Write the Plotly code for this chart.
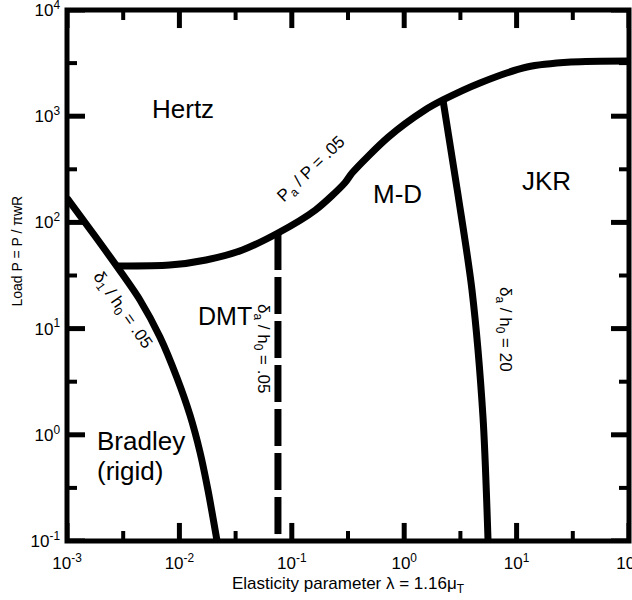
import plotly.graph_objects as go

# Pa/P = .05 boundary (Hertz above)
lam_pa = [0.002844, 0.00817, 0.01726, 0.03639, 0.07534, 0.1626, 0.2958, 0.3436,
          0.7244, 1.531, 2.213, 4.721, 12.39, 30.48, 100]
p_pa = [38.9, 39.7, 44.3, 55.0, 79.4, 130.9, 235.0, 291.7,
        636.8, 1143, 1422, 2056, 2904, 3236, 3311]

# delta_1 / h0 = .05 boundary (Bradley / DMT)
lam_d1 = [0.001, 0.001774, 0.002844, 0.004457, 0.006714, 0.009528, 0.01242, 0.01524, 0.01795, 0.02163]
p_d1 = [169.8, 74.5, 37.2, 18.6, 8.34, 3.43, 1.535, 0.689, 0.302, 0.1]

# delta_a / h0 = .05 boundary (DMT / M-D)
lam_da05 = [0.0753, 0.0753]
p_da05 = [79.4, 0.1]

# delta_a / h0 = 20 boundary (M-D / JKR)
lam_da20 = [2.213, 3.013, 4.009, 5.023, 5.572]
p_da20 = [1422, 181.2, 23.1, 1.472, 0.1]

x_ticks = [1e-3, 1e-2, 1e-1, 1e0, 1e1, 1e2]
x_ticktext = ["10<sup>-3</sup>", "10<sup>-2</sup>", "10<sup>-1</sup>",
              "10<sup>0</sup>", "10<sup>1</sup>", "10<sup>2</sup>"]
y_ticks = [1e-1, 1e0, 1e1, 1e2, 1e3, 1e4]
y_ticktext = ["10<sup>-1</sup>", "10<sup>0</sup>", "10<sup>1</sup>",
              "10<sup>2</sup>", "10<sup>3</sup>", "10<sup>4</sup>"]
x_minor = [10 ** (k + 0.5) for k in range(-3, 2)]
y_minor = [10 ** (k + 0.5) for k in range(-1, 4)]

X_MIN, X_MAX = 1e-3, 1e2
Y_MIN, Y_MAX = 1e-1, 1e4

FONT = "Liberation Sans, Arial, sans-serif"
LW = 7

fig = go.Figure()
fig.add_trace(go.Scatter(x=lam_pa, y=p_pa, mode="lines", hoverinfo="skip",
                         line=dict(color="black", width=LW, shape="spline", smoothing=0.8)))
fig.add_trace(go.Scatter(x=lam_d1, y=p_d1, mode="lines", hoverinfo="skip",
                         line=dict(color="black", width=LW, shape="spline", smoothing=0.8)))
fig.add_trace(go.Scatter(x=lam_da05, y=p_da05, mode="lines", hoverinfo="skip",
                         line=dict(color="black", width=LW, dash="37px,7px")))
fig.add_trace(go.Scatter(x=lam_da20, y=p_da20, mode="lines", hoverinfo="skip",
                         line=dict(color="black", width=LW, shape="spline", smoothing=0.8)))


# inward tick marks on all four sides, one short segment each (lengths in decades)
def tick(xs, ys, width):
    fig.add_trace(go.Scatter(x=xs, y=ys, mode="lines", hoverinfo="skip",
                             cliponaxis=False, line=dict(color="black", width=width)))


for xv, yv, len_x, len_y, w in ((x_ticks, y_ticks, 0.16, 0.17, 5),
                                (x_minor, y_minor, 0.089, 0.094, 4)):
    for v in xv:
        tick([v, v], [Y_MIN, Y_MIN * 10 ** len_y], w)
        tick([v, v], [Y_MAX, Y_MAX / 10 ** len_y], w)
    for v in yv:
        tick([X_MIN, X_MIN * 10 ** len_x], [v, v], w)
        tick([X_MAX, X_MAX / 10 ** len_x], [v, v], w)

# region labels: (log10 x, log10 y, text, size, angle, xanchor)
labels = [
    (-1.968, 3.068, "Hertz", 26, 0, "center"),
    (-0.060, 2.267, "M-D", 26, 0, "center"),
    (1.262, 2.390, "JKR", 26, 0, "center"),
    (-1.590, 1.119, "DMT", 25, 0, "center"),
    (-2.751, -0.058, "Bradley", 26, 0, "left"),
    (-2.751, -0.341, "(rigid)", 26, 0, "left"),
    (-0.820, 2.493, "P<sub>a</sub> / P = .05", 17, -44, "center"),
    (-2.511, 1.166, "δ<sub>1</sub> / h<sub>0</sub> = .05", 17, 55, "center"),
    (-1.265, 0.817, "δ<sub>a</sub> / h<sub>0</sub> = .05", 17, 90, "center"),
    (0.888, 0.996, "δ<sub>a</sub> / h<sub>0</sub> = 20", 17, 90, "center"),
]
for lx, ly, txt, size, ang, xa in labels:
    fig.add_annotation(x=lx, y=ly, xref="x", yref="y", text=txt, showarrow=False,
                       textangle=ang, xanchor=xa, yanchor="middle", align="left",
                       font=dict(family=FONT, size=size, color="black"))

# axis titles
fig.add_annotation(x=0.5, y=0, xref="paper", yref="paper", yshift=-44,
                   text="Elasticity parameter λ = 1.16μ<sub>T</sub>", showarrow=False,
                   xanchor="center", yanchor="middle",
                   font=dict(family=FONT, size=17, color="black"))
fig.add_annotation(x=0, y=0.545, xref="paper", yref="paper", xshift=-50,
                   text="Load P = P / πwR", textangle=-90, showarrow=False,
                   xanchor="center", yanchor="middle",
                   font=dict(family=FONT, size=14, color="black"))

# plot frame
fig.add_shape(type="rect", xref="paper", yref="paper", x0=0, x1=1, y0=0, y1=1,
              line=dict(color="black", width=5), layer="above")

axis_common = dict(
    showline=False, ticks="", showgrid=False, zeroline=False,
    ticklabeloverflow="allow",
    tickfont=dict(family=FONT, size=17, color="black"),
)

fig.update_layout(
    width=632, height=600,
    margin=dict(l=67, r=3, t=10, b=59, autoexpand=False),
    plot_bgcolor="white", paper_bgcolor="white",
    showlegend=False,
    font=dict(family=FONT, color="black"),
    xaxis=dict(type="log", range=[-3, 2], tickvals=x_ticks, ticktext=x_ticktext,
               ticklabelstandoff=10, **axis_common),
    yaxis=dict(type="log", range=[-1, 4], tickvals=y_ticks, ticktext=y_ticktext,
               ticklabelstandoff=6, **axis_common),
)

fig.write_html("out.html")
